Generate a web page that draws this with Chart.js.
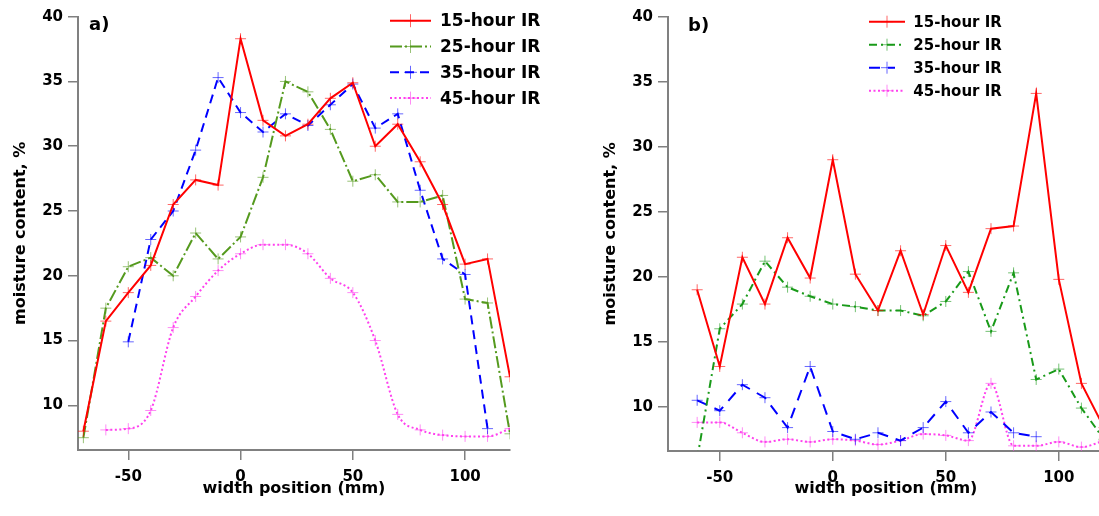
<!DOCTYPE html>
<html><head><meta charset="utf-8">
<script src="https://cdn.jsdelivr.net/npm/chart.js@4/dist/chart.umd.min.js"></script>
<style>
html,body{margin:0;padding:0;background:#fff;overflow:hidden;width:1099px;height:516px;}
#wa{position:absolute;left:0;top:0;width:550px;height:516px;}
#wb{position:absolute;left:590px;top:0;width:554px;height:516px;}
canvas{display:block;}
</style></head><body>
<div id="wa"><canvas id="ca" width="550" height="516"></canvas></div>
<div id="wb"><canvas id="cb" width="554" height="516"></canvas></div>
<script>
// ---- data ----
const seriesLabels = ['15-hour IR', '25-hour IR', '35-hour IR', '45-hour IR'];
const xTicks = [-50, 0, 50, 100];
const yTicks = [10, 15, 20, 25, 30, 35, 40];
const yTitle = 'moisture content, %';
const xTitle = 'width position (mm)';

const posA = [-70, -60, -50, -40, -30, -20, -10, 0, 10, 20, 30, 40, 50, 60, 70, 80, 90, 100, 110, 120];
const a15 = [8.0, 16.5, 18.7, 20.8, 25.5, 27.4, 27.0, 38.3, 32.0, 30.8, 31.7, 33.7, 34.9, 30.0, 31.7, 28.8, 25.5, 20.9, 21.3, 12.2];
const a25 = [7.5, 17.5, 20.7, 21.4, 20.0, 23.3, 21.3, 23.0, 27.6, 35.0, 34.2, 31.3, 27.3, 27.8, 25.7, 25.7, 26.2, 18.2, 17.9, 7.8];
const a35 = [null, null, 14.9, 22.8, 25.0, 29.7, 35.3, 32.6, 31.1, 32.5, 31.6, 33.2, 34.8, 31.4, 32.5, 26.6, 21.3, 20.1, 8.2, null];
const a45 = [null, 8.1, 8.2, 9.6, 16.0, 18.4, 20.4, 21.7, 22.4, 22.4, 21.7, 19.8, 18.7, 15.0, 9.3, 8.1, 7.7, 7.6, 7.6, 8.2];

const posB = [-60, -50, -40, -30, -20, -10, 0, 10, 20, 30, 40, 50, 60, 70, 80, 90, 100, 110, 120];
const b15 = [19.0, 13.1, 21.5, 17.9, 23.0, 19.9, 29.0, 20.2, 17.4, 22.0, 17.1, 22.4, 18.8, 23.7, 23.9, 34.1, 19.8, 11.8, 8.4];
const b25 = [6.0, 16.0, 17.9, 21.2, 19.2, 18.5, 17.9, 17.7, 17.4, 17.4, 17.0, 18.1, 20.4, 15.8, 20.3, 12.1, 12.9, 9.9, 7.5];
const b35 = [10.5, 9.7, 11.7, 10.7, 8.4, 13.1, 8.1, 7.5, 8.0, 7.4, 8.4, 10.4, 8.0, 9.6, 8.0, 7.7, null, null, null];
const b45 = [8.8, 8.8, 8.0, 7.3, 7.5, 7.3, 7.5, 7.4, 7.1, 7.4, 7.9, 7.8, 7.4, 11.8, 7.0, 7.0, 7.3, 6.9, 7.4];

// ---- styles ----
const FONT = 'DejaVu Sans';
const stylesA = [
  {color: '#ff0000', pt: 'rgba(255,0,0,0.6)', dash: [], mono: false},
  {color: '#559a1e', pt: 'rgba(85,154,30,0.6)', dash: [12, 3, 2, 3], mono: false},
  {color: '#0000ff', pt: 'rgba(0,0,255,0.6)', dash: [9, 6], mono: false},
  {color: '#ff40ee', pt: 'rgba(255,64,238,0.6)', dash: [2, 2.5], mono: true}
];
const stylesB = [
  {color: '#ff0000', pt: 'rgba(255,0,0,0.6)', dash: [], mono: false},
  {color: '#199a19', pt: 'rgba(25,154,25,0.6)', dash: [8, 4, 2, 4], mono: false},
  {color: '#0000ff', pt: 'rgba(0,0,255,0.6)', dash: [11, 8], mono: false},
  {color: '#ff40ee', pt: 'rgba(255,64,238,0.6)', dash: [2, 2.5], mono: true}
];

const overlayPlugin = {
  id: 'overlay',
  afterDraw(chart, args, o) {
    const ctx = chart.ctx;
    ctx.save();
    // panel label
    ctx.fillStyle = '#000';
    ctx.font = 'bold 18px "' + FONT + '"';
    ctx.textBaseline = 'alphabetic';
    ctx.textAlign = 'left';
    ctx.fillText(o.panel, o.px, o.py);
    // legend
    chart.data.datasets.forEach((ds, i) => {
      const y = o.y0 + i * o.dy;
      const x1 = o.x1[i];
      ctx.strokeStyle = ds.borderColor;
      ctx.lineWidth = ds.borderWidth;
      ctx.setLineDash(ds.borderDash || []);
      ctx.beginPath(); ctx.moveTo(o.x0, y); ctx.lineTo(x1, y); ctx.stroke();
      ctx.setLineDash([]);
      ctx.strokeStyle = ds.pointBorderColor;
      ctx.lineWidth = 1;
      ctx.beginPath();
      ctx.moveTo(o.cx - o.cr, y); ctx.lineTo(o.cx + o.cr, y);
      ctx.moveTo(o.cx, y - o.cr); ctx.lineTo(o.cx, y + o.cr);
      ctx.stroke();
      ctx.fillStyle = '#000';
      ctx.font = 'bold ' + o.fs + 'px "' + FONT + '"';
      ctx.textBaseline = 'middle';
      ctx.fillText(ds.label, o.tx, y + 1);
    });
    ctx.restore();
  }
};

function makeChart(id, xs, series, styles, cfg) {
  const datasets = series.map((vals, i) => ({
    label: seriesLabels[i],
    data: xs.map((x, j) => ({x: x, y: vals[j]})),
    borderColor: styles[i].color,
    borderWidth: 2,
    borderDash: styles[i].dash,
    pointStyle: 'cross',
    pointRadius: 5.5,
    pointBorderWidth: 1,
    pointBorderColor: styles[i].pt,
    pointBackgroundColor: styles[i].pt,
    tension: 0,
    cubicInterpolationMode: styles[i].mono ? 'monotone' : 'default',
    fill: false,
    spanGaps: false
  }));
  const tickFont = {family: FONT, weight: 'bold', size: 15};
  const titleFont = {family: FONT, weight: 'bold', size: 16};
  return new Chart(document.getElementById(id), {
    type: 'line',
    data: {datasets},
    options: {
      responsive: false,
      animation: false,
      devicePixelRatio: 1,
      layout: {padding: {left: 0, right: 40, top: 16.7, bottom: 0}},
      plugins: {legend: {display: false}, tooltip: {enabled: false}, overlay: cfg.overlay},
      scales: {
        x: {
          type: 'linear', min: cfg.xmin, max: 120,
          afterBuildTicks: s => { s.ticks = xTicks.map(v => ({value: v})); },
          afterFit: s => { s.height = cfg.xh; },
          grid: {drawOnChartArea: false, drawTicks: true, tickLength: 10, color: '#808080', lineWidth: 1.5},
          border: {display: true, color: '#808080', width: 2},
          ticks: {color: '#000', font: tickFont, padding: 8, maxRotation: 0, autoSkip: false},
          title: {display: true, text: xTitle, color: '#000', font: titleFont, padding: {top: 0, bottom: 18}}
        },
        y: {
          type: 'linear', min: cfg.ymin, max: 40,
          afterBuildTicks: s => { s.ticks = yTicks.map(v => ({value: v})); },
          afterFit: s => { s.width = 78; },
          grid: {drawOnChartArea: false, drawTicks: true, tickLength: 10, color: '#808080', lineWidth: 1.5},
          border: {display: true, color: '#808080', width: 2},
          ticks: {color: '#000', font: tickFont, padding: 5},
          title: {display: true, text: yTitle, color: '#000', font: titleFont, padding: {top: 11, bottom: 0}}
        }
      }
    },
    plugins: [overlayPlugin]
  });
}

makeChart('ca', posA, [a15, a25, a35, a45], stylesA, {
  xmin: -72.4, ymin: 6.55, xh: 66,
  overlay: {panel: 'a)', px: 89, py: 30, x0: 390, x1: [431, 431, 431, 431], cx: 410.5, cr: 6.5, tx: 440, y0: 20.7, dy: 25.8, fs: 17}
});
makeChart('cb', posB, [b15, b25, b35, b45], stylesB, {
  xmin: -72.9, ymin: 6.6, xh: 65,
  overlay: {panel: 'b)', px: 98, py: 31, x0: 279, x1: [315, 315, 305, 315], cx: 297, cr: 6, tx: 323.3, y0: 21.7, dy: 23, fs: 15}
});
</script>
</body></html>
